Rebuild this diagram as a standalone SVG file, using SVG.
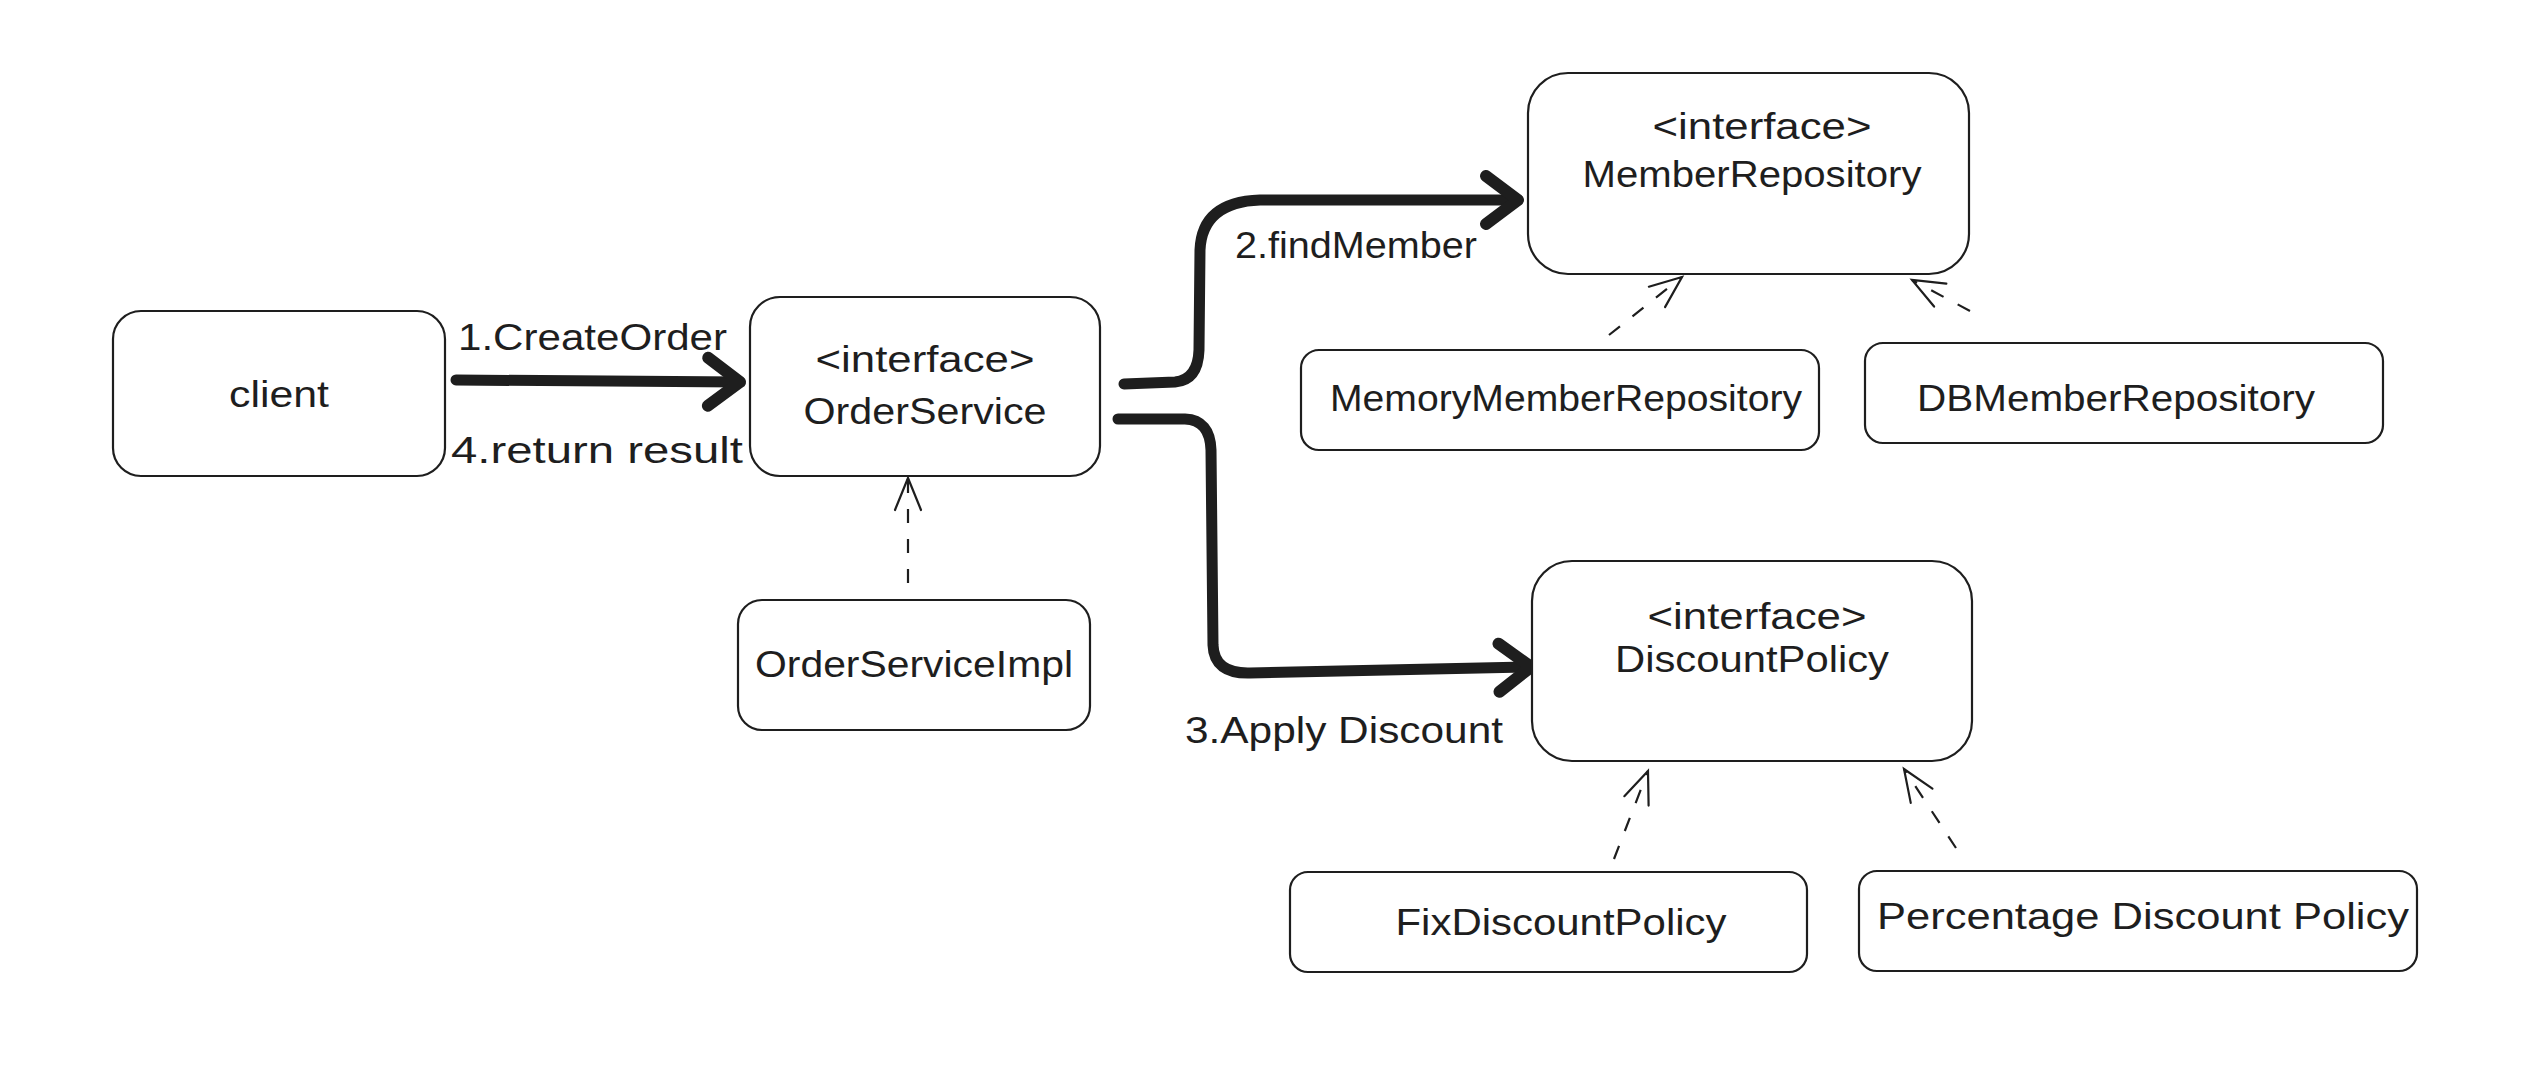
<svg xmlns="http://www.w3.org/2000/svg" width="2528" height="1090" viewBox="0 0 2528 1090">
<style>
.box{fill:#ffffff;stroke:#1e1e1e;stroke-width:2.2}
.t{font-family:"Liberation Sans","DejaVu Sans",sans-serif;font-size:36px;fill:#1e1e1e;text-anchor:middle}
.lbl{font-family:"Liberation Sans","DejaVu Sans",sans-serif;font-size:36px;fill:#1e1e1e}
.thick{fill:none;stroke:#1e1e1e;stroke-width:11;stroke-linecap:round;stroke-linejoin:round}
.dash{fill:none;stroke:#1e1e1e;stroke-width:2.2;stroke-dasharray:14 16}
</style>
<defs>
<marker id="ah" markerUnits="userSpaceOnUse" viewBox="-45 -35 55 70" markerWidth="55" markerHeight="70" refX="0" refY="0" orient="auto" overflow="visible">
<path d="M -32 -24 L 0 0 L -32 24" fill="none" stroke="#1e1e1e" stroke-width="12" stroke-linecap="round" stroke-linejoin="round"/>
</marker>
<marker id="ao" markerUnits="userSpaceOnUse" viewBox="-35 -18 40 36" markerWidth="40" markerHeight="36" refX="0" refY="0" orient="auto" overflow="visible">
<path d="M -32 -13 L 0 0 L -32 13" fill="none" stroke="#1e1e1e" stroke-width="2.2" stroke-linecap="round"/>
</marker>
</defs>
<rect width="2528" height="1090" fill="#ffffff"/>
<g id="connectors">
<path class="thick" d="M 456 380 L 740 382" marker-end="url(#ah)"/>
<path class="thick" d="M 1124 384 L 1175 382 Q 1198 380 1199 350 L 1200 250 Q 1202 202 1260 200 L 1518 200" marker-end="url(#ah)"/>
<path class="thick" d="M 1118 419 L 1185 419 Q 1210 420 1211 450 L 1213 645 Q 1214 674 1250 673 L 1531 667" marker-end="url(#ah)"/>
<path class="dash" d="M 908 583 L 908 478" marker-end="url(#ao)"/>
<path class="dash" d="M 1609 335 L 1682 277" marker-end="url(#ao)"/>
<path class="dash" d="M 1970 311 L 1912 280" marker-end="url(#ao)"/>
<path class="dash" d="M 1614 859 L 1648 771" marker-end="url(#ao)"/>
<path class="dash" d="M 1956 848 L 1904 769" marker-end="url(#ao)"/>
</g>
<g id="labels">
<text class="lbl" x="458" y="350" textLength="269" lengthAdjust="spacingAndGlyphs">1.CreateOrder</text>
<text class="lbl" x="451" y="463" textLength="292" lengthAdjust="spacingAndGlyphs">4.return result</text>
<text class="lbl" x="1235" y="258" textLength="242" lengthAdjust="spacingAndGlyphs">2.findMember</text>
<text class="lbl" x="1185" y="743" textLength="318" lengthAdjust="spacingAndGlyphs">3.Apply Discount</text>
</g>
<g id="client">
<rect class="box" x="113" y="311" width="332" height="165" rx="28"/>
<text class="t" x="279" y="407" textLength="100" lengthAdjust="spacingAndGlyphs">client</text>
</g>
<g id="orderService">
<rect class="box" x="750" y="297" width="350" height="179" rx="30"/>
<text class="t" x="925" y="372" textLength="219" lengthAdjust="spacingAndGlyphs">&lt;interface&gt;</text>
<text class="t" x="925" y="424" textLength="243" lengthAdjust="spacingAndGlyphs">OrderService</text>
</g>
<g id="orderServiceImpl">
<rect class="box" x="738" y="600" width="352" height="130" rx="24"/>
<text class="t" x="914" y="677" textLength="318" lengthAdjust="spacingAndGlyphs">OrderServiceImpl</text>
</g>
<g id="memberRepository">
<rect class="box" x="1528" y="73" width="441" height="201" rx="40"/>
<text class="t" x="1762" y="139" textLength="219" lengthAdjust="spacingAndGlyphs">&lt;interface&gt;</text>
<text class="t" x="1752" y="187" textLength="339" lengthAdjust="spacingAndGlyphs">MemberRepository</text>
</g>
<g id="memoryMemberRepository">
<rect class="box" x="1301" y="350" width="518" height="100" rx="18"/>
<text class="t" x="1566" y="411" textLength="472" lengthAdjust="spacingAndGlyphs">MemoryMemberRepository</text>
</g>
<g id="dbMemberRepository">
<rect class="box" x="1865" y="343" width="518" height="100" rx="18"/>
<text class="t" x="2116" y="411" textLength="398" lengthAdjust="spacingAndGlyphs">DBMemberRepository</text>
</g>
<g id="discountPolicy">
<rect class="box" x="1532" y="561" width="440" height="200" rx="40"/>
<text class="t" x="1757" y="629" textLength="219" lengthAdjust="spacingAndGlyphs">&lt;interface&gt;</text>
<text class="t" x="1752" y="672" textLength="274" lengthAdjust="spacingAndGlyphs">DiscountPolicy</text>
</g>
<g id="fixDiscountPolicy">
<rect class="box" x="1290" y="872" width="517" height="100" rx="18"/>
<text class="t" x="1561" y="935" textLength="331" lengthAdjust="spacingAndGlyphs">FixDiscountPolicy</text>
</g>
<g id="percentageDiscountPolicy">
<rect class="box" x="1859" y="871" width="558" height="100" rx="18"/>
<text class="t" x="2143" y="929" textLength="532" lengthAdjust="spacingAndGlyphs">Percentage Discount Policy</text>
</g>
</svg>
